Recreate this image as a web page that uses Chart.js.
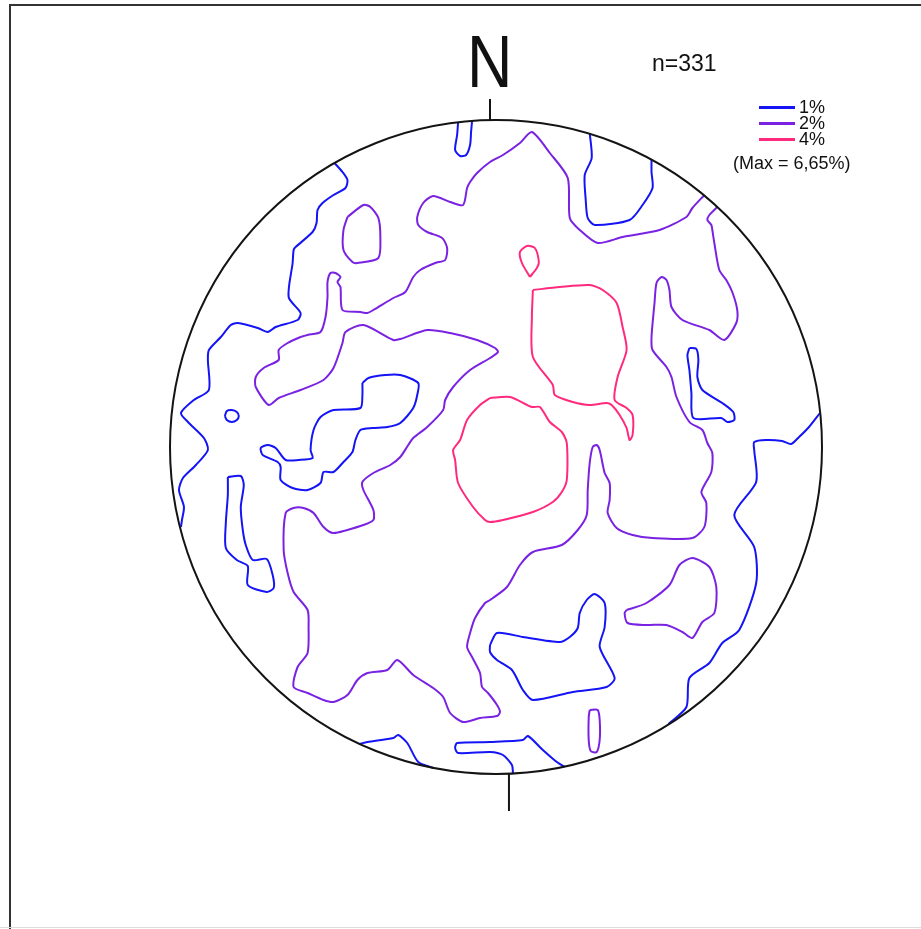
<!DOCTYPE html>
<html>
<head>
<meta charset="utf-8">
<script src="https://cdn.jsdelivr.net/npm/chart.js@4.4.1/dist/chart.umd.min.js"></script>
<style>
  html, body { margin: 0; padding: 0; background: #fff; }
  body { width: 921px; height: 929px; position: relative; overflow: hidden; }
  #frame { position: absolute; left: 9px; top: 4px; width: 1000px; height: 1000px;
           border-left: 2px solid #333; border-top: 2px solid #333; }
  #bottomEdge { position: absolute; left: 0; top: 927px; width: 921px; height: 1px; background: #ddd; }
  #net { position: absolute; left: 0; top: 0; }
  .lbl { position: absolute; font-family: "Liberation Sans", Arial, sans-serif; color: #111;
         line-height: 1; white-space: nowrap; }
  .swatch { position: absolute; height: 3px; width: 36px; }
</style>
</head>
<body>
<div id="frame"></div>
<div id="bottomEdge"></div>
<canvas id="net" width="921" height="929"></canvas>
<div class="lbl" id="north" style="left:467px; top:25px; font-size:74px; transform:scaleX(0.85); transform-origin:left top;">N</div>
<div class="lbl" id="count" style="left:652px; top:52px; font-size:23px;">n=331</div>
<div id="legend"></div>
<script>
// Contour vertices in net coordinates: x east, y north, primitive circle radius 327.
const NET_RADIUS = 327;

// Contour levels (percent of points per 1% area)
const levelLabels = ['1%', '2%', '4%'];
const maxDensityLabel = '(Max = 6,65%)';
const pointCount = 'n=331';

// 1% contours
const c1_a = [[-38,325],[-39,312],[-41,297],[-36,291],[-30,292],[-26,302],[-25,315],[-24,326]];
const c1_b = [[-162,284],[-154,275],[-149,267],[-151,259],[-163,252],[-174,244],[-179,237],[-180,224],[-184,215],
  [-201,200],[-203,197],[-204,184],[-208,150],[-196,134],[-199,127],[-221,120],[-229,115],[-239,119],[-259,124],
  [-266,122],[-276,110],[-288,97],[-289,87],[-288,57],[-303,47],[-316,34],[-309,25],[-293,9],[-289,-3],[-301,-18],
  [-314,-31],[-318,-43],[-313,-60],[-315,-73],[-316,-80]];
const c1_c = [[-272,31],[-270,36],[-265,37],[-260,35],[-258,31],[-260,27],[-265,25],[-270,27],[-272,31]];
const c1_d = [[-134,64],[-128,69],[-111,72],[-96,72],[-78,64],[-79,52],[-83,39],[-96,24],[-109,20],[-124,19],
  [-136,17],[-141,7],[-144,-5],[-153,-15],[-163,-25],[-173,-25],[-176,-36],[-189,-43],[-204,-41],[-216,-33],
  [-216,-20],[-219,-15],[-234,-8],[-236,-1],[-229,2],[-221,-1],[-211,-13],[-198,-13],[-184,-11],[-186,-3],
  [-183,17],[-176,30],[-163,37],[-136,39],[-134,52],[-134,64]];
const c1_e = [[-269,-30],[-256,-29],[-253,-38],[-256,-60],[-254,-83],[-251,-98],[-244,-113],[-230,-112],[-224,-128],
  [-223,-141],[-230,-145],[-249,-138],[-249,-119],[-260,-113],[-271,-101],[-271,-76],[-269,-48],[-269,-30]];
const c1_f = [[-137,-297],[-129,-295],[-103,-291],[-98,-288],[-89,-296],[-78,-315],[-63,-321]];
const c1_g = [[17,-326],[16,-318],[7,-308],[-6,-305],[-38,-306],[-41,-301],[-39,-296],[-6,-295],[27,-293],[32,-289],
  [47,-303],[61,-315],[69,-320]];
const c1_h = [[-6,-198],[1,-186],[27,-190],[64,-195],[74,-190],[82,-181],[84,-166],[91,-153],[99,-147],[109,-156],
  [109,-180],[104,-200],[119,-231],[111,-240],[77,-245],[37,-253],[27,-243],[16,-223],[1,-213],[-6,-205],[-6,-198]];
const c1_i = [[194,99],[201,98],[203,87],[202,70],[207,57],[227,44],[238,35],[239,27],[232,25],[226,29],[198,29],
  [196,54],[194,77],[192,92],[194,99]];
const c1_j = [[94,314],[96,289],[89,272],[90,247],[92,229],[99,222],[134,227],[147,242],[157,259],[156,275],[156,288]];
const c1_k = [[325,34],[314,20],[304,10],[296,3],[287,6],[271,7],[259,5],[259,-3],[261,-35],[239,-68],[259,-100],
  [261,-136],[244,-183],[227,-196],[214,-216],[194,-231],[191,-260],[173,-277]];

// 2% contours
const c2_a = [[209,252],[197,239],[191,230],[164,217],[127,210],[102,204],[84,217],[74,229],[72,269],[54,294],
  [36,315],[24,304],[7,292],[-6,285],[-19,274],[-26,265],[-29,259],[-33,242],[-46,245],[-63,251],[-73,244],
  [-79,230],[-78,222],[-69,215],[-54,209],[-49,199],[-51,187],[-61,184],[-76,177],[-83,170],[-91,155],[-103,149],
  [-123,137],[-129,134],[-136,135],[-154,137],[-156,160],[-159,165],[-156,170],[-161,174],[-166,174],[-169,165],
  [-169,150],[-171,130],[-176,115],[-189,112],[-196,110],[-209,104],[-218,97],[-218,87],[-233,79],[-241,70],
  [-241,60],[-228,42],[-218,49],[-196,57],[-173,67],[-163,79],[-154,104],[-151,115],[-133,122],[-103,107],
  [-96,108],[-69,117],[-46,114],[-19,107],[-1,99],[2,95],[-6,89],[-26,77],[-43,60],[-51,47],[-53,37],[-69,20],
  [-83,9],[-88,2],[-96,-10],[-106,-18],[-123,-26],[-134,-35],[-133,-43],[-123,-63],[-123,-73],[-133,-78],
  [-163,-86],[-173,-80],[-183,-66],[-193,-61],[-203,-61],[-211,-66],[-213,-103],[-209,-126],[-203,-145],
  [-189,-163],[-188,-180],[-189,-206],[-199,-220],[-203,-240],[-189,-246],[-173,-253],[-163,-255],[-149,-248],
  [-139,-233],[-129,-226],[-109,-223],[-99,-213],[-83,-228],[-63,-241],[-53,-250],[-46,-266],[-33,-275],
  [-16,-271],[1,-269],[4,-265],[1,-258],[-8,-246],[-14,-240],[-16,-226],[-24,-210],[-29,-200],[-26,-186],
  [-21,-171],[-11,-156],[-6,-153],[11,-140],[24,-118],[37,-105],[66,-98],[82,-83],[91,-68],[92,-43],[94,-16],
  [97,0],[101,2],[104,-3],[109,-26],[114,-36],[114,-53],[112,-66],[121,-81],[137,-88],[157,-91],[197,-91],
  [209,-80],[211,-56],[206,-45],[216,-25],[217,-6],[212,4],[207,17],[194,25],[181,50],[176,70],[171,80],
  [157,97],[156,110],[159,144],[161,164],[166,170],[171,167],[174,157],[176,140],[187,127],[214,117],[229,107],
  [241,124],[242,137],[237,155],[231,167],[224,177],[219,204],[217,217],[216,222],[212,227],[214,232],[222,240]];
const c2_b = [[-149,230],[-133,242],[-126,240],[-118,229],[-116,210],[-118,189],[-139,184],[-144,185],[-153,197],
  [-153,217],[-149,230]];
const c2_c = [[94,-263],[102,-263],[104,-273],[104,-293],[101,-305],[95,-304],[93,-293],[93,-270],[94,-263]];
const c2_d = [[131,-163],[151,-156],[174,-138],[184,-118],[197,-111],[214,-120],[221,-140],[219,-166],[207,-175],
  [197,-191],[187,-185],[171,-178],[151,-178],[132,-176],[129,-166],[131,-163]];

// 4% contours
const c4_a = [[34,170],[26,184],[24,195],[31,201],[39,199],[43,185],[41,179],[34,170]];
const c4_b = [[37,157],[64,160],[94,162],[107,157],[121,144],[127,120],[131,97],[122,70],[119,47],[131,39],
  [137,32],[137,12],[134,7],[131,19],[124,32],[116,42],[111,44],[94,42],[77,45],[59,52],[57,62],[37,90],
  [36,130],[37,157]];
const c4_c = [[-6,49],[14,50],[36,40],[44,40],[54,25],[66,15],[71,4],[71,-33],[66,-45],[57,-55],[37,-65],[7,-73],
  [-6,-75],[-11,-73],[-23,-60],[-38,-36],[-41,-13],[-43,-3],[-36,7],[-29,27],[-16,42],[-6,49]];

const contoursByLevel = [
  [c1_a, c1_b, c1_c, c1_d, c1_e, c1_f, c1_g, c1_h, c1_i, c1_j, c1_k],
  [c2_a, c2_b, c2_c, c2_d],
  [c4_a, c4_b, c4_c]
];

const levelColors = ['#1414f5', '#7a22e2', '#ff2a7e'];

const datasets = [];
contoursByLevel.forEach((lines, li) => {
  lines.forEach(line => {
    datasets.push({
      label: levelLabels[li],
      data: line.map(p => ({ x: p[0], y: p[1] })),
      showLine: true,
      borderColor: levelColors[li],
      borderWidth: 2,
      pointRadius: 0,
      tension: 0.25,
      fill: false
    });
  });
});

// Primitive circle and N/S tick marks
const netFrame = {
  id: 'netFrame',
  afterDatasetsDraw(chart) {
    const { ctx, scales: { x, y } } = chart;
    const cx = x.getPixelForValue(0), cy = y.getPixelForValue(0);
    const rx = x.getPixelForValue(NET_RADIUS) - cx;
    const ry = cy - y.getPixelForValue(NET_RADIUS);
    ctx.save();
    ctx.strokeStyle = '#141414';
    ctx.lineWidth = 2;
    ctx.beginPath();
    ctx.ellipse(cx, cy, rx, ry, 0, 0, Math.PI * 2);
    ctx.stroke();
    // north tick
    const nx = x.getPixelForValue(-6), ny = cy - ry;
    ctx.beginPath(); ctx.moveTo(nx, ny); ctx.lineTo(nx, ny - 21); ctx.stroke();
    // south tick
    const sx = x.getPixelForValue(13), sy = cy + ry;
    ctx.beginPath(); ctx.moveTo(sx, sy); ctx.lineTo(sx, sy + 37); ctx.stroke();
    ctx.restore();
  }
};

new Chart(document.getElementById('net'), {
  type: 'scatter',
  data: { datasets },
  options: {
    responsive: false,
    devicePixelRatio: 1,
    animation: false,
    layout: { padding: { left: 170, right: 99, top: 120, bottom: 155 } },
    scales: {
      x: { type: 'linear', min: -NET_RADIUS, max: NET_RADIUS, display: false },
      y: { type: 'linear', min: -NET_RADIUS, max: NET_RADIUS, display: false }
    },
    plugins: { legend: { display: false }, tooltip: { enabled: false } }
  },
  plugins: [netFrame]
});

// Legend: line swatches with level labels
const legend = document.getElementById('legend');
levelLabels.forEach((lab, i) => {
  const sw = document.createElement('div');
  sw.className = 'swatch';
  sw.style.left = '759px';
  sw.style.top = (106 + i * 16) + 'px';
  sw.style.background = levelColors[i];
  legend.appendChild(sw);
  const t = document.createElement('div');
  t.className = 'lbl';
  t.style.left = '799px';
  t.style.top = (98 + i * 16) + 'px';
  t.style.fontSize = '18px';
  t.textContent = lab;
  legend.appendChild(t);
});
const mx = document.createElement('div');
mx.className = 'lbl';
mx.style.left = '733px';
mx.style.top = '154px';
mx.style.fontSize = '18px';
mx.textContent = maxDensityLabel;
legend.appendChild(mx);
document.getElementById('count').textContent = pointCount;
</script>
</body>
</html>
